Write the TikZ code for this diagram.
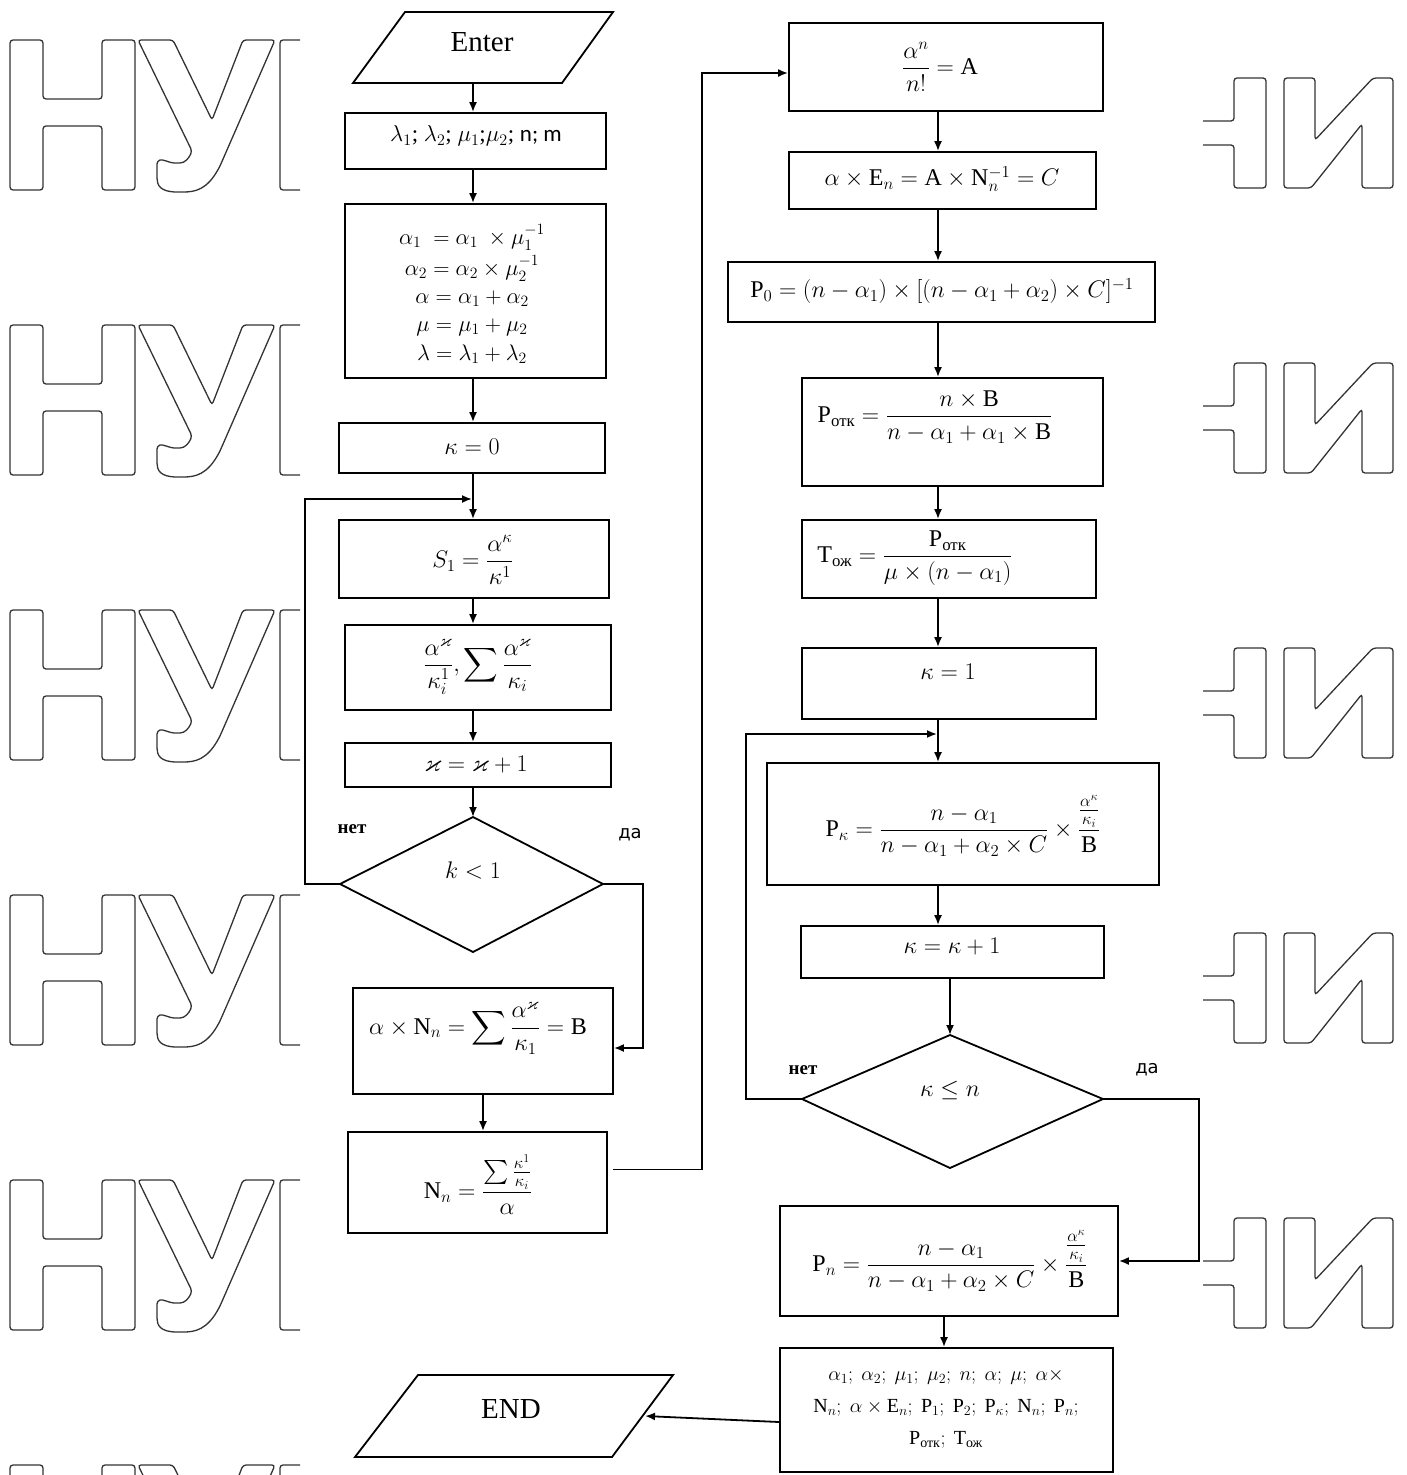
\documentclass[tikz,border=0pt]{standalone}
\usepackage{fix-cm}
\usepackage{amsmath,amssymb}
\usepackage{fontspec}
\setmainfont{Liberation Serif}
\newfontfamily\dvsans{DejaVu Sans}
\newfontfamily\carlito{Carlito}
\usetikzlibrary{arrows.meta,calc}
\tikzset{
  fcbox/.style={draw, line width=1.8pt, rectangle, inner sep=0pt},
  fctext/.style={inner sep=0pt, font=\fontsize{24}{29}\selectfont, align=center},
  alptext/.style={inner sep=0pt, anchor=base, font=\fontsize{22.5}{27}\selectfont},
  smtext/.style={inner sep=0pt, font=\fontsize{20}{32}\selectfont, align=center},
  ioshape/.style={draw, line width=1.8pt},
  iotext/.style={inner sep=0pt, font=\fontsize{29}{34}\selectfont},
  arr/.style={draw, line width=1.8pt, -{Latex[length=10pt,width=8pt]}},
  ln/.style={draw, line width=1.8pt},
  notext/.style={inner sep=0pt, font=\fontsize{19}{21}\selectfont\bfseries},
  yestext/.style={inner sep=0pt, font=\dvsans\fontsize{18}{20}\selectfont},
  wm/.style={draw=black!80, line width=1.3pt, rounded corners=3pt}
}
\newcommand\mkbox[5]{\node[fcbox, minimum width={(#4)-(#2)}, minimum height={(#5)-(#3)}] (#1) at ({((#2)+(#4))/2},{((#3)+(#5))/2}) {};}
\begin{document}
\begin{tikzpicture}[x=1pt,y=-1pt]
\useasboundingbox (0,0) rectangle (1406,1475);
\fill[white] (0,0) rectangle (1406,1475);
% watermark
\foreach \dy in {0,285,570,855,1140,1425}{
  \begin{scope}[shift={(0,\dy)}]
    \draw[wm] (10,40) -- (43,40) -- (43,99) -- (102,99) -- (102,40) -- (135,40) -- (135,190) -- (102,190) -- (102,126) -- (43,126) -- (43,190) -- (10,190) -- cycle;
    \draw[wm] (138,40) -- (173,40) -- (212,120) -- (243,40) -- (275,40) -- (220,166) .. controls (207,190) and (195,192) .. (180,192) .. controls (160,192) and (157,185) .. (157,175) -- (157,161) .. controls (163,159) and (170,163) .. (177,163) .. controls (185,163) and (189,158) .. (192,151) -- cycle;
    \draw[wm] (300,40) -- (280,40) -- (280,190) -- (300,190);
  \end{scope}
}
\foreach \dy in {0,285,570,855,1140}{
  \begin{scope}[shift={(0,\dy)}]
    \draw[wm] (1203,121) -- (1234,121) -- (1234,78) -- (1266,78) -- (1266,188) -- (1234,188) -- (1234,145) -- (1203,145);
    \draw[wm] (1284,78) -- (1315,78) -- (1315,140) -- (1373,78) -- (1393,78) -- (1393,188) -- (1362,188) -- (1362,124) -- (1311,188) -- (1284,188) -- cycle;
  \end{scope}
}
% column coordinates
\coordinate (xL) at (473,0);
\coordinate (xB) at (483,0);
\coordinate (xR) at (938,0);
\coordinate (xR2) at (950,0);
\coordinate (xR3) at (944,0);
% Enter
\draw[ioshape] (405,12) -- (613,12) -- (562,83) -- (353,83) -- cycle;
\node[iotext] (tEnter) at (482,42) {Enter};
\coordinate (cEnt) at (473,83);
% left column boxes
\mkbox{bLam}{345}{113}{606}{169}
\node[inner sep=0pt, font=\fontsize{23}{26}\selectfont] (tLam) at (476,136) {$\lambda_1$; $\lambda_2$; $\mu_1$;$\mu_2$; {\carlito n; m}};
\mkbox{bAlp}{345}{204}{606}{378}
\node[alptext] (tAlp1) at (472,244) {$\alpha_1\ =\alpha_1\ \times\mu_1^{-1}$};
\node[alptext] (tAlp2) at (472,275) {$\alpha_2=\alpha_2\times\mu_2^{-1}$};
\node[alptext] (tAlp3) at (472,303) {$\alpha=\alpha_1+\alpha_2$};
\node[alptext] (tAlp4) at (472,331) {$\mu=\mu_1+\mu_2$};
\node[alptext] (tAlp5) at (472,360) {$\lambda=\lambda_1+\lambda_2$};
\mkbox{bK0}{339}{423}{605}{473}
\node[fctext] (tK0) at (472,447) {$\kappa=0$};
\mkbox{bS1}{339}{520}{609}{598}
\node[fctext] (tS1) at (473,560) {$S_1=\dfrac{\alpha^{\kappa}}{\kappa^{1}}$};
\mkbox{bSum}{345}{625}{611}{710}
\node[fctext] (tSum) at (478,667) {$\dfrac{\alpha^{\varkappa}}{\kappa_i^{1}},\displaystyle\sum\frac{\alpha^{\varkappa}}{\kappa_i}$};
\mkbox{bInc}{345}{743}{611}{787}
\node[fctext] (tInc) at (476,765) {$\varkappa=\varkappa+1$};
% diamond 1
\coordinate (d1t) at (473,817);
\coordinate (d1r) at (603,884);
\coordinate (d1b) at (473,952);
\coordinate (d1l) at (340,884);
\draw[ioshape] (d1t) -- (d1r) -- (d1b) -- (d1l) -- cycle;
\node[fctext] (tD1) at (473,870) {$k<1$};
\node[notext] (tNo1) at (352,829) {нет};
\node[yestext] (tYes1) at (630,835) {да};
\mkbox{bB}{353}{988}{613}{1094}
\node[fctext] (tB) at (478,1028) {$\alpha\times\mathrm{N}_n=\displaystyle\sum\frac{\alpha^{\varkappa}}{\kappa_1}=\mathrm{B}$};
\mkbox{bNn}{348}{1132}{607}{1233}
\node[fctext] (tNn) at (478,1185) {$\mathrm{N}_n=\dfrac{\sum\frac{\kappa^{1}}{\kappa_i}}{\alpha}$};
% right column
\mkbox{bA}{789}{23}{1103}{111}
\node[fctext] (tA) at (940,67) {$\dfrac{\alpha^{n}}{n!}=\mathrm{A}$};
\mkbox{bC}{789}{152}{1096}{209}
\node[fctext] (tC) at (942,179) {$\alpha\times\mathrm{E}_n=\mathrm{A}\times\mathrm{N}_n^{-1}=C$};
\mkbox{bP0}{728}{262}{1155}{322}
\node[fctext] (tP0) at (942,291) {$\mathrm{P}_0=(n-\alpha_1)\times[(n-\alpha_1+\alpha_2)\times C]^{-1}$};
\mkbox{bPotk}{802}{378}{1103}{486}
\node[fctext] (tPotk) at (935,417) {$\mathrm{P}_{\text{отк}}=\dfrac{n\times\mathrm{B}}{n-\alpha_1+\alpha_1\times\mathrm{B}}$};
\mkbox{bT}{802}{520}{1096}{598}
\node[fctext] (tT) at (915,558) {$\mathrm{T}_{\text{ож}}=\dfrac{\mathrm{P}_{\text{отк}}}{\mu\times(n-\alpha_1)}$};
\mkbox{bK1}{802}{648}{1096}{719}
\node[fctext] (tK1) at (948,672) {$\kappa=1$};
\mkbox{bPk}{767}{763}{1159}{885}
\node[fctext] (tPk) at (963,826) {$\mathrm{P}_{\kappa}=\dfrac{n-\alpha_1}{n-\alpha_1+\alpha_2\times C}\times\dfrac{\frac{\alpha^{\kappa}}{\kappa_i}}{\mathrm{B}}$};
\mkbox{bInc2}{801}{926}{1104}{978}
\node[fctext] (tInc2) at (952,947) {$\kappa=\kappa+1$};
% diamond 2
\coordinate (d2t) at (950,1035);
\coordinate (d2r) at (1103,1099);
\coordinate (d2b) at (950,1168);
\coordinate (d2l) at (802,1099);
\draw[ioshape] (d2t) -- (d2r) -- (d2b) -- (d2l) -- cycle;
\node[fctext] (tD2) at (950,1090) {$\kappa\le n$};
\node[notext] (tNo2) at (803,1070) {нет};
\node[yestext] (tYes2) at (1147,1070) {да};
\mkbox{bPn}{780}{1206}{1118}{1316}
\node[fctext] (tPn) at (950,1261) {$\mathrm{P}_n=\dfrac{n-\alpha_1}{n-\alpha_1+\alpha_2\times C}\times\dfrac{\frac{\alpha^{\kappa}}{\kappa_i}}{\mathrm{B}}$};
\mkbox{bOut}{780}{1348}{1113}{1472}
\node[smtext] (tOut) at (946,1409) {$\alpha_1;\ \alpha_2;\ \mu_1;\ \mu_2;\ n;\ \alpha;\ \mu;\ \alpha\times$\\ $\mathrm{N}_n;\ \alpha\times\mathrm{E}_n;\ \mathrm{P}_1;\ \mathrm{P}_2;\ \mathrm{P}_{\kappa};\ \mathrm{N}_n;\ \mathrm{P}_n;$\\ $\mathrm{P}_{\text{отк}};\ \mathrm{T}_{\text{ож}}$};
% END
\draw[ioshape] (418,1375) -- (673,1375) -- (612,1457) -- (355,1457) -- cycle;
\node[iotext] (tEnd) at (511,1409) {END};
\coordinate (endR) at (645,1416);
% junction coordinates
\coordinate (j1) at (473,499);
\coordinate (j2) at (938,734);
% connectors left
\draw[arr] (cEnt) -- (bLam.north -| cEnt);
\draw[arr] (bLam.south -| xL) -- (bAlp.north -| xL);
\draw[arr] (bAlp.south -| xL) -- (bK0.north -| xL);
\draw[arr] (bK0.south -| xL) -- (bS1.north -| xL);
\draw[arr] (bS1.south -| xL) -- (bSum.north -| xL);
\draw[arr] (bSum.south -| xL) -- (bInc.north -| xL);
\draw[arr] (bInc.south -| xL) -- (d1t);
\draw[arr] (d1l) -- ++(-35,0) |- ([xshift=-1pt]j1);
\draw[arr] (d1r) -- ++(40,0) |- ([yshift=-7pt]bB.east);
\draw[arr] (bB.south -| xB) -- (bNn.north -| xB);
\draw[arr] ([yshift=13pt,xshift=5pt]bNn.east) -- ++(89,0) |- ([yshift=-6pt]bA.west);
% connectors right
\draw[arr] (bA.south -| xR) -- (bC.north -| xR);
\draw[arr] (bC.south -| xR) -- (bP0.north -| xR);
\draw[arr] (bP0.south -| xR) -- (bPotk.north -| xR);
\draw[arr] (bPotk.south -| xR) -- (bT.north -| xR);
\draw[arr] (bT.south -| xR) -- (bK1.north -| xR);
\draw[arr] (bK1.south -| xR) -- (bPk.north -| xR);
\draw[arr] (bPk.south -| xR) -- (bInc2.north -| xR);
\draw[arr] (bInc2.south -| xR2) -- (d2t);
\draw[arr] (d2l) -- ++(-56,0) |- ([xshift=-1pt]j2);
\draw[arr] (d2r) -- ++(96,0) |- (bPn.east);
\draw[arr] (bPn.south -| xR3) -- (bOut.north -| xR3);
\draw[arr] ([yshift=-12pt]bOut.west) -- (endR);
\end{tikzpicture}
\end{document}
